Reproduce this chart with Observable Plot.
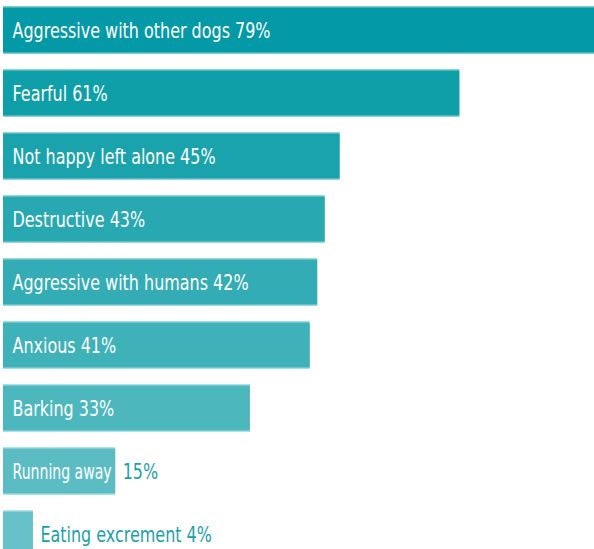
<!DOCTYPE html>
<html>
<head>
<meta charset="utf-8">
<script src="https://cdn.jsdelivr.net/npm/d3@7"></script>
<script src="https://cdn.jsdelivr.net/npm/@observablehq/plot@0.6"></script>
<style>
  html, body { margin: 0; padding: 0; background: #fff; overflow: hidden; }
  #chart { width: 594px; height: 549px; overflow: hidden; }
</style>
</head>
<body>
<div id="chart"></div>
<script>
const categories = [
  "Aggressive with other dogs",
  "Fearful",
  "Not happy left alone",
  "Destructive",
  "Aggressive with humans",
  "Anxious",
  "Barking",
  "Running away",
  "Eating excrement"
];
const values = [79, 61, 45, 43, 42, 41, 33, 15, 4];
const colors = ["#0399a6", "#0f9fa9", "#1ba3ad", "#28a8b1", "#33acb5", "#3fb1b9", "#4db7be", "#5bbcc3", "#67c1c8"];
const edgeColors = ["#7fcdd3", "#86d0d6", "#8cd3d8", "#93d6db", "#99d9dd", "#a0dce0", "#a7dfe3", "#aee2e5", "#b4e5e8"];

const data = categories.map((c, i) => ({
  name: c, value: values[i], pct: values[i] + "%",
  fill: colors[i], edge: edgeColors[i]
}));

const font = "'DejaVu Sans', sans-serif";
const fontSize = 21;
const narrow = 0.76; // horizontal condensing of the label glyphs

const chart = Plot.plot({
  width: 594,
  height: 549,
  marginTop: 0, marginBottom: 0, marginLeft: 0, marginRight: 0,
  style: { fontFamily: font, background: "#fff" },
  x: { domain: [0, 79], range: [3, 594], axis: null },
  y: { domain: categories, range: [7, 557], paddingInner: 0.27, paddingOuter: 0, align: 0, axis: null },
  marks: [
    Plot.barX(data, { x: "value", y: "name", fill: "edge", insetTop: -1, insetBottom: -1 }),
    Plot.barX(data, { x: "value", y: "name", fill: "fill", insetTop: 0.5, insetBottom: 0.5 }),
    Plot.text(data.filter(d => d.value > 20), {
      x: 0, y: "name", text: d => d.name + " " + d.pct,
      textAnchor: "start", dx: 9, fill: "#fff", fontSize, lineAnchor: "middle", dy: 1
    }),
    Plot.text(data.filter(d => d.value > 10 && d.value <= 20), {
      x: 0, y: "name", text: "name",
      textAnchor: "start", dx: 9, fill: "#fff", fontSize, lineAnchor: "middle", dy: 1
    }),
    Plot.text(data.filter(d => d.value > 10 && d.value <= 20), {
      x: "value", y: "name", text: "pct",
      textAnchor: "start", dx: 7, fill: "#1a9fa9", fontSize, lineAnchor: "middle", dy: 1
    }),
    Plot.text(data.filter(d => d.value <= 10), {
      x: "value", y: "name", text: d => d.name + " " + d.pct,
      textAnchor: "start", dx: 7, fill: "#1a9fa9", fontSize, lineAnchor: "middle", dy: 1
    })
  ]
});
document.getElementById("chart").appendChild(chart);

// condense label glyphs horizontally (narrow typeface look) without moving anchors
const xs = chart.scale("x");
const ctx = document.createElement("canvas").getContext("2d");
ctx.font = `${fontSize}px 'DejaVu Sans'`;
chart.querySelectorAll("text").forEach(t => {
  const s = t.textContent;
  let w = ctx.measureText(s).width * narrow;
  const d = data.find(d => d.name === s);
  if (d) {
    // name-only label sits inside a short bar: keep it inside the bar
    const barW = (xs.range[1] - xs.range[0]) * d.value / (xs.domain[1] - xs.domain[0]);
    w = Math.min(w, barW - 13);
  }
  if (w > 0) {
    t.setAttribute("textLength", w.toFixed(1));
    t.setAttribute("lengthAdjust", "spacingAndGlyphs");
  }
});
</script>
</body>
</html>
